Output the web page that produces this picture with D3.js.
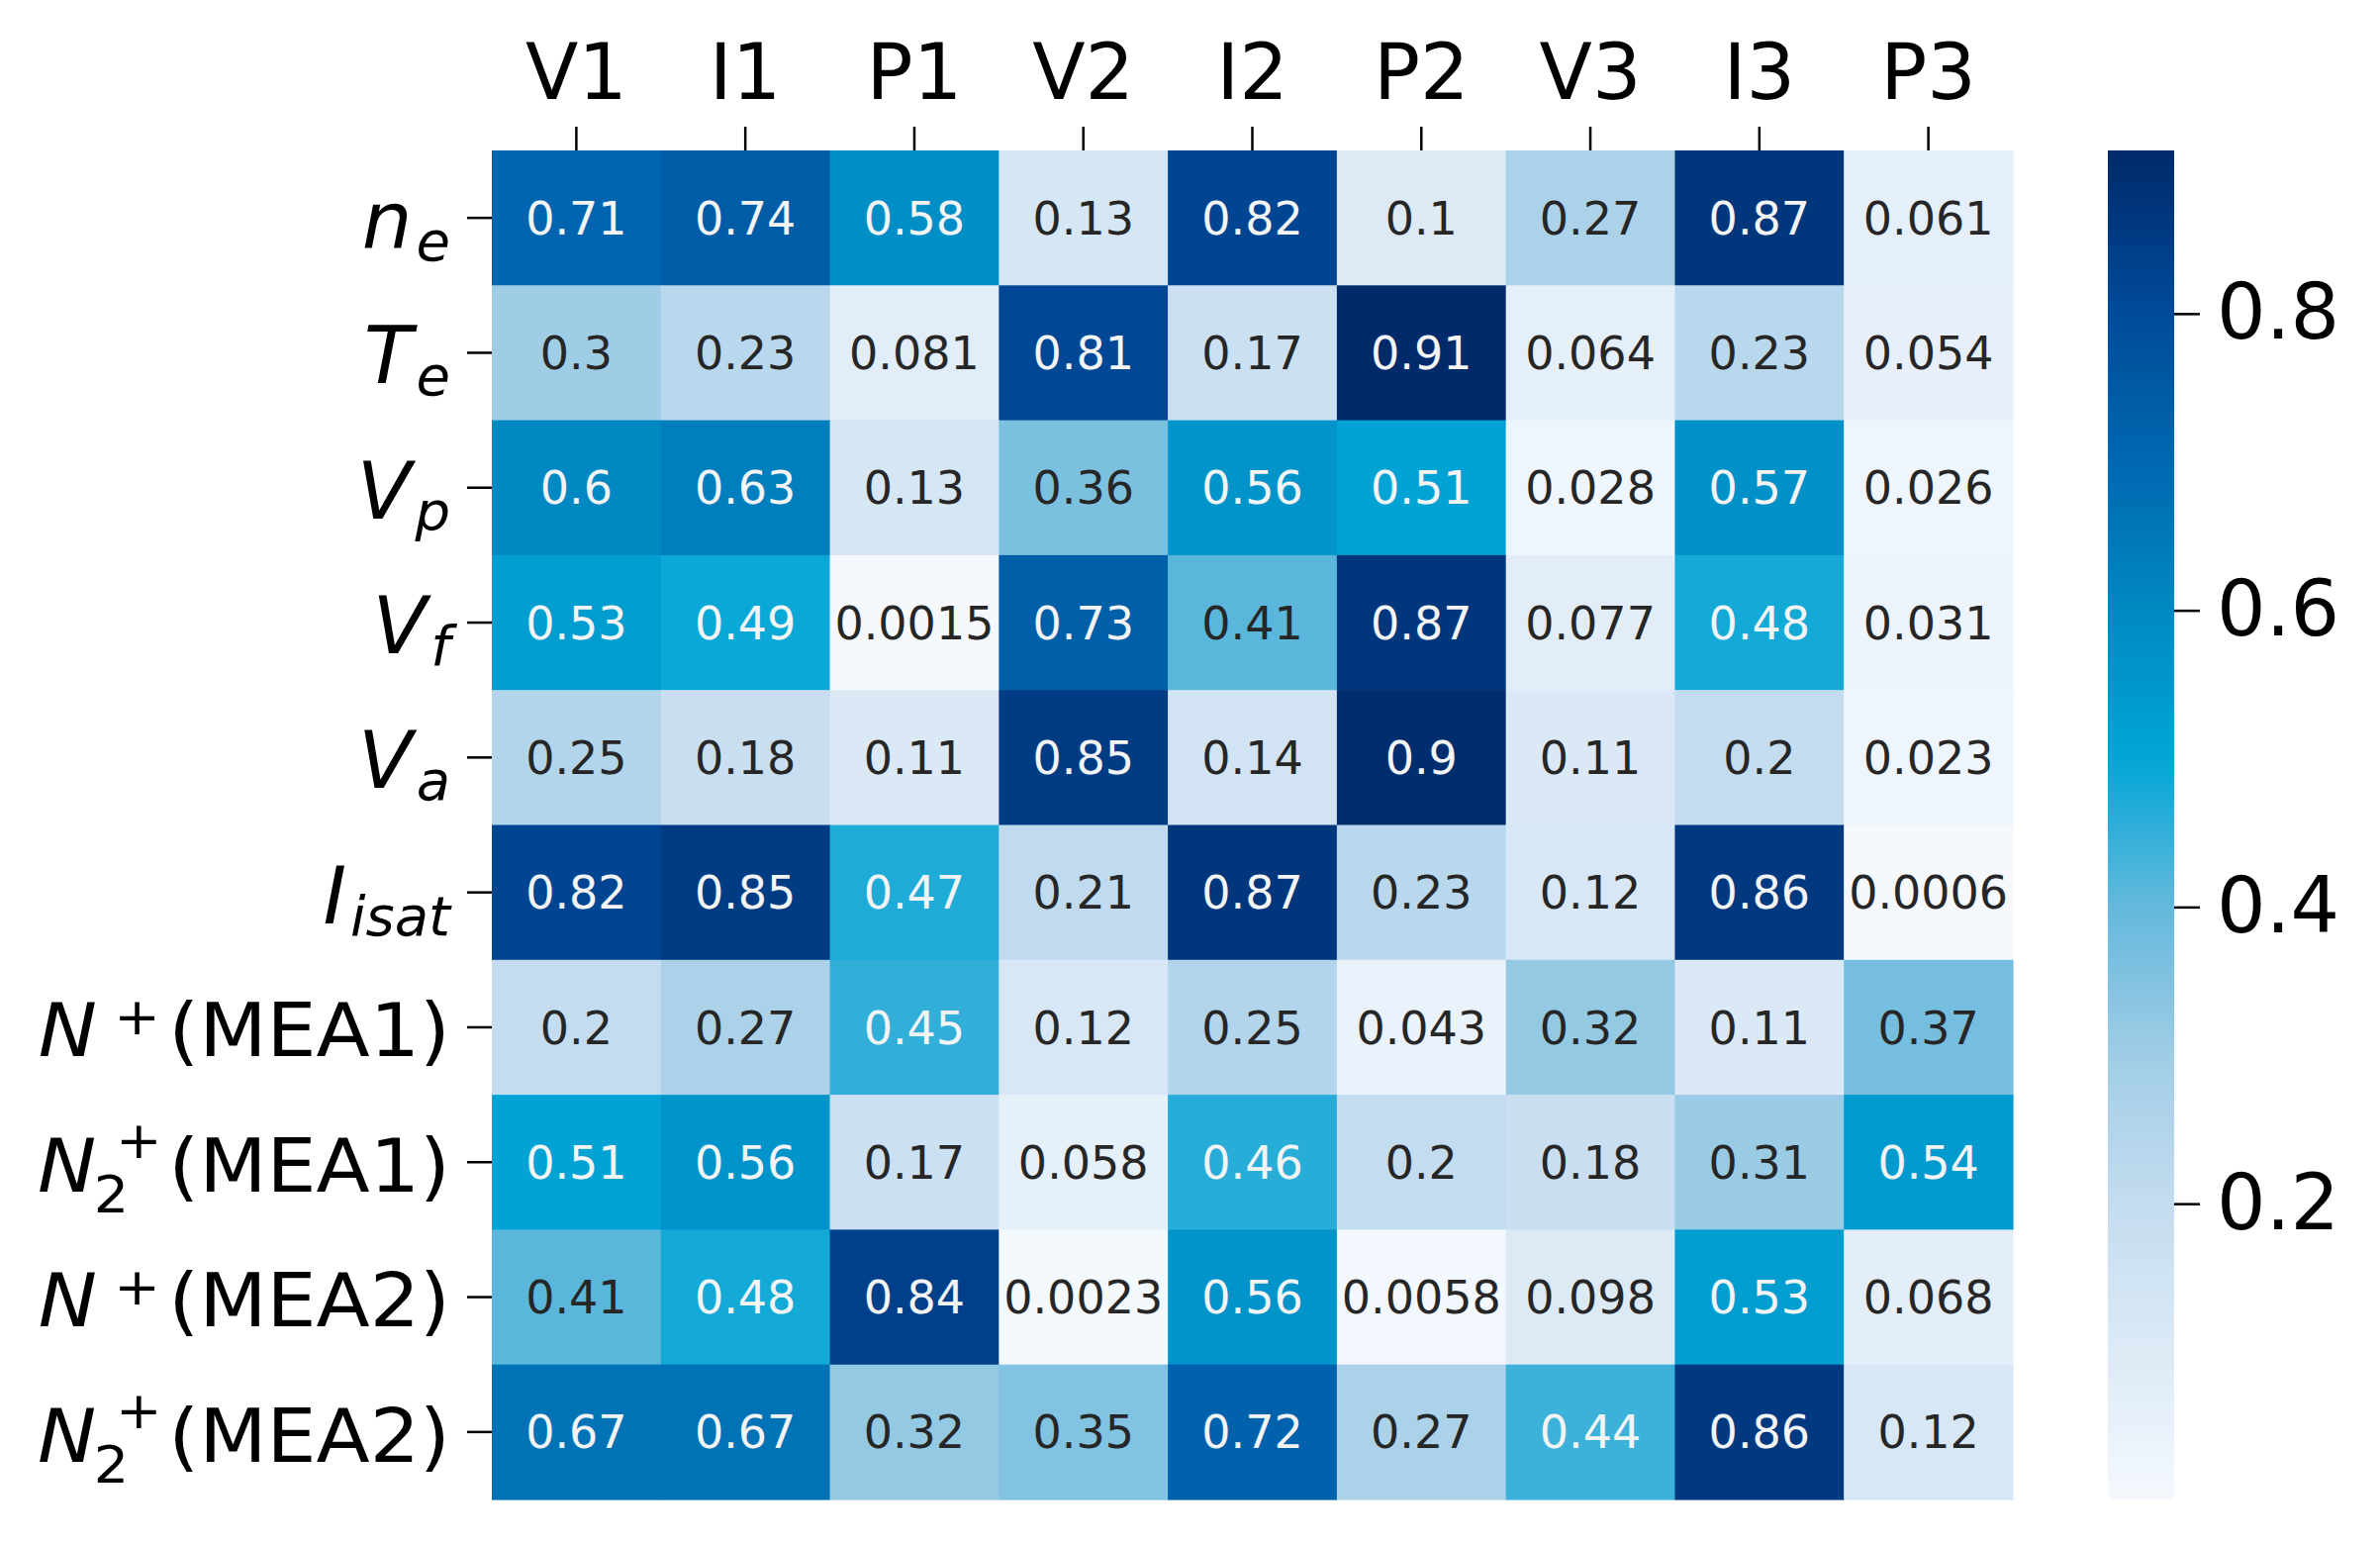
<!DOCTYPE html>
<html>
<head>
<meta charset="utf-8">
<script src="https://cdn.jsdelivr.net/npm/d3@7"></script>
<style>
  html, body { margin: 0; padding: 0; background: #ffffff; }
  svg { display: block; }
</style>
</head>
<body>
<svg id="chart" width="2405" height="1560"></svg>
<script>
// ---------------- DATA ----------------
const columns = ["V1", "I1", "P1", "V2", "I2", "P2", "V3", "I3", "P3"];

// Row labels: main symbol, subscript, superscript, trailing text
const rowLabels = [
  { main: "n", sub: "e" },
  { main: "T", sub: "e" },
  { main: "V", sub: "p" },
  { main: "V", sub: "f" },
  { main: "V", sub: "a" },
  { main: "I", sub: "isat" },
  { main: "N", sup: "+", text: "(MEA1)" },
  { main: "N", sub: "2", sup: "+", text: "(MEA1)" },
  { main: "N", sup: "+", text: "(MEA2)" },
  { main: "N", sub: "2", sup: "+", text: "(MEA2)" }
];

const rowNe       = [0.71, 0.74, 0.58, 0.13, 0.82, 0.1, 0.27, 0.87, 0.061];
const rowTe       = [0.3, 0.23, 0.081, 0.81, 0.17, 0.91, 0.064, 0.23, 0.054];
const rowVp       = [0.6, 0.63, 0.13, 0.36, 0.56, 0.51, 0.028, 0.57, 0.026];
const rowVf       = [0.53, 0.49, 0.0015, 0.73, 0.41, 0.87, 0.077, 0.48, 0.031];
const rowVa       = [0.25, 0.18, 0.11, 0.85, 0.14, 0.9, 0.11, 0.2, 0.023];
const rowIisat    = [0.82, 0.85, 0.47, 0.21, 0.87, 0.23, 0.12, 0.86, 0.0006];
const rowNpMEA1   = [0.2, 0.27, 0.45, 0.12, 0.25, 0.043, 0.32, 0.11, 0.37];
const rowN2pMEA1  = [0.51, 0.56, 0.17, 0.058, 0.46, 0.2, 0.18, 0.31, 0.54];
const rowNpMEA2   = [0.41, 0.48, 0.84, 0.0023, 0.56, 0.0058, 0.098, 0.53, 0.068];
const rowN2pMEA2  = [0.67, 0.67, 0.32, 0.35, 0.72, 0.27, 0.44, 0.86, 0.12];

const matrix = [rowNe, rowTe, rowVp, rowVf, rowVa, rowIisat,
                rowNpMEA1, rowN2pMEA1, rowNpMEA2, rowN2pMEA2];

const colorbarTicks = [0.2, 0.4, 0.6, 0.8];

// colormap stops (value -> colour)
const cmapValues = [0.0, 0.05, 0.1, 0.2, 0.3, 0.4, 0.5, 0.6, 0.7, 0.8, 0.91];
const cmapColors = ["#f5f9fe", "#e8f1fa", "#dceaf6", "#c4dcf0", "#a0cde6",
                    "#64b8dc", "#00a6d6", "#0088c3", "#0068b0", "#004b9a", "#002a6a"];

// ---------------- LAYOUT ----------------
const FONT = "DejaVu Sans, Verdana, sans-serif";
const hm = { x0: 497, x1: 2034, y0: 152, y1: 1515 };
const cb = { x0: 2130, x1: 2197 };

const svg = d3.select("#chart");
svg.append("rect").attr("width", 2405).attr("height", 1560).attr("fill", "#fff");

const flat = matrix.flat();
const vmin = d3.min(flat), vmax = d3.max(flat);

const x = d3.scaleBand().domain(d3.range(columns.length)).range([hm.x0, hm.x1]).padding(0);
const y = d3.scaleBand().domain(d3.range(rowLabels.length)).range([hm.y0, hm.y1]).padding(0);

const cmap = d3.scaleLinear().domain(cmapValues).range(cmapColors)
  .interpolate(d3.interpolateRgb).clamp(true);
const color = v => cmap(v);

// ---------------- CELLS ----------------
const cells = [];
matrix.forEach((row, r) => row.forEach((v, c) => cells.push({ r, c, v })));

const g = svg.append("g");
g.selectAll("rect.cell").data(cells).join("rect")
  .attr("class", "cell")
  .attr("x", d => x(d.c))
  .attr("y", d => y(d.r))
  .attr("width", x.bandwidth() + 0.6)
  .attr("height", y.bandwidth() + 0.6)
  .attr("fill", d => color(d.v));

const fmt = d3.format(".2~g");
g.selectAll("text.annot").data(cells).join("text")
  .attr("class", "annot")
  .attr("x", d => x(d.c) + x.bandwidth() / 2)
  .attr("y", d => y(d.r) + y.bandwidth() / 2)
  .attr("dy", "0.36em")
  .attr("text-anchor", "middle")
  .attr("font-family", FONT)
  .attr("font-size", 46)
  .attr("fill", d => d.v > 0.43 ? "#f4f4f4" : "#262626")
  .text(d => fmt(d.v));

// ---------------- X AXIS (top) ----------------
const xAxis = d3.axisTop(x).tickSize(24).tickPadding(28).tickFormat(i => columns[i]);
const gx = svg.append("g").attr("transform", `translate(0,${hm.y0})`).call(xAxis);
gx.select(".domain").remove();
gx.selectAll(".tick line").attr("stroke", "#000").attr("stroke-width", 2.5);
gx.selectAll(".tick text").attr("font-family", FONT).attr("font-size", 78).attr("fill", "#000");

// ---------------- Y AXIS (left) ----------------
const yAxis = d3.axisLeft(y).tickSize(25).tickFormat("");
const gy = svg.append("g").attr("transform", `translate(${hm.x0},0)`).call(yAxis);
gy.select(".domain").remove();
gy.selectAll(".tick line").attr("stroke", "#000").attr("stroke-width", 2.5);

const labelRight = 455;
rowLabels.forEach((lab, i) => {
  const cy = y(i) + y.bandwidth() / 2;
  if (!lab.text) {
    const t = svg.append("text")
      .attr("x", labelRight).attr("y", cy + 31)
      .attr("text-anchor", "end")
      .attr("font-family", FONT).attr("fill", "#000");
    t.append("tspan").attr("font-style", "italic").attr("font-size", 80).text(lab.main);
    t.append("tspan").attr("font-style", "italic").attr("font-size", 56)
      .attr("dx", 4).attr("dy", 12).text(lab.sub);
  } else {
    const base = cy + (lab.sub ? 30 : 29);
    const grp = svg.append("g")
      .attr("transform", `translate(${labelRight},${base}) scale(1.07,1)`);
    const t = grp.append("text")
      .attr("x", 0).attr("y", 0)
      .attr("text-anchor", "end")
      .attr("font-family", FONT).attr("fill", "#000");
    t.append("tspan").attr("font-style", "italic").attr("font-size", 74).text(lab.main);
    if (lab.sub) {
      t.append("tspan").attr("font-size", 52).attr("dx", -2.4).attr("dy", 21).text(lab.sub);
      t.append("tspan").attr("font-size", 52).attr("dx", -12.3).attr("dy", -55).text(lab.sup);
      t.append("tspan").attr("font-size", 74).attr("dx", 6.4).attr("dy", 34).text(lab.text);
    } else {
      t.append("tspan").attr("font-size", 52).attr("dx", 16).attr("dy", -22).text(lab.sup);
      t.append("tspan").attr("font-size", 74).attr("dx", 8).attr("dy", 22).text(lab.text);
    }
  }
});

// ---------------- COLOUR BAR ----------------
const cScale = d3.scaleLinear().domain([vmin, vmax]).range([hm.y1, hm.y0]);
const defs = svg.append("defs");
const grad = defs.append("linearGradient").attr("id", "cbgrad")
  .attr("x1", 0).attr("y1", 1).attr("x2", 0).attr("y2", 0);
d3.range(0, 1.0001, 0.02).forEach(t => {
  grad.append("stop").attr("offset", t)
    .attr("stop-color", color(vmin + t * (vmax - vmin)));
});
svg.append("rect")
  .attr("x", cb.x0).attr("y", hm.y0)
  .attr("width", cb.x1 - cb.x0).attr("height", hm.y1 - hm.y0)
  .attr("fill", "url(#cbgrad)");

const cAxis = d3.axisRight(cScale).tickValues(colorbarTicks).tickSize(26).tickPadding(17)
  .tickFormat(d3.format(".1f"));
const gc = svg.append("g").attr("transform", `translate(${cb.x1},0)`).call(cAxis);
gc.select(".domain").remove();
gc.selectAll(".tick line").attr("stroke", "#000").attr("stroke-width", 2.5);
gc.selectAll(".tick text").attr("font-family", FONT).attr("font-size", 78).attr("fill", "#000");
</script>
</body>
</html>
